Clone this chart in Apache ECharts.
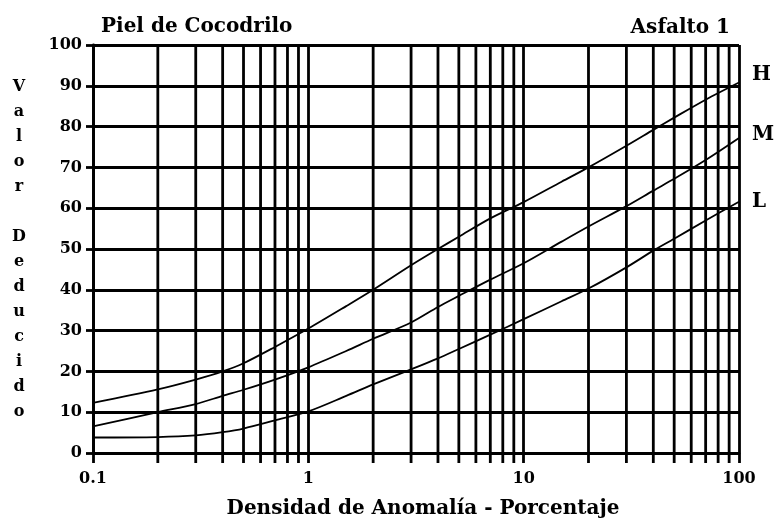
<!DOCTYPE html>
<html lang="es">
<head>
    <meta charset="UTF-8">
    <title>Piel de Cocodrilo - Asfalto 1</title>
    <script src="https://cdn.jsdelivr.net/npm/echarts@6/dist/echarts.min.js"></script>
    <style>
        html, body { margin: 0; padding: 0; background: #fff; }
        #chart { width: 778px; height: 520px; }
    </style>
</head>
<body>
<div id="chart"></div>
<script>
    // densidad (%) en el eje log
    var densidad = [0.1, 0.2, 0.3, 0.4, 0.5, 0.7, 1, 1.5, 2, 3, 4, 5, 7, 10, 15, 20, 30, 40, 50, 70, 100];
    // valor deducido por severidad
    var severidadH = [12.3, 15.6, 18, 20, 22, 26, 30.5, 36, 40, 46, 50, 53, 57.5, 61.5, 66.5, 70, 75.3, 79.2, 82.2, 86.6, 90.8];
    var severidadM = [6.5, 10, 12, 14, 15.5, 18, 21, 25, 28, 32, 35.8, 38.5, 42.5, 46.5, 51.8, 55.5, 60.5, 64.3, 67.2, 71.8, 77.2];
    var severidadL = [3.8, 3.9, 4.3, 5.1, 6, 8, 10.2, 14, 16.8, 20.5, 23.2, 25.5, 29, 32.8, 37.2, 40.3, 45.5, 49.6, 52.5, 57, 61.6];
    // lineas verticales intermedias de la escala log
    var lineasMenores = [0.2, 0.3, 0.4, 0.5, 0.6, 0.7, 0.8, 0.9,
        2, 3, 4, 5, 6, 7, 8, 9,
        20, 30, 40, 50, 60, 70, 80, 90];

    var fuente = 'DejaVu Serif';
    var grosor = 2.8;
    var chart = echarts.init(document.getElementById('chart'));

    function pares(ys) {
        return densidad.map(function (x, i) { return [x, ys[i]]; });
    }

    function curva(nombre, ys, dy) {
        return {
            name: nombre,
            type: 'line',
            data: pares(ys),
            symbol: 'none',
            smooth: 0.3,
            z: 5,
            lineStyle: { color: '#000', width: 1.8 },
            endLabel: {
                show: true,
                formatter: '{a}',
                distance: 13,
                offset: [0, dy],
                color: '#000',
                fontFamily: fuente,
                fontWeight: 'bold',
                fontSize: 20
            }
        };
    }

    chart.setOption({
        animation: false,
        backgroundColor: '#fff',
        title: [{
            text: 'Piel de Cocodrilo',
            left: 96, top: 12,
            textStyle: { fontFamily: fuente, fontWeight: 'bold', fontSize: 20, color: '#000' }
        }, {
            text: 'Asfalto 1',
            right: 43, top: 13,
            textStyle: { fontFamily: fuente, fontWeight: 'bold', fontSize: 20, color: '#000' }
        }],
        grid: { left: 93, right: 39, top: 45, bottom: 67, containLabel: false, outerBoundsMode: 'none' },
        xAxis: {
            type: 'log',
            logBase: 10,
            min: 0.1,
            max: 100,
            name: 'Densidad de Anomalía - Porcentaje',
            nameLocation: 'middle',
            nameGap: 46,
            nameTextStyle: { fontFamily: fuente, fontWeight: 'bold', fontSize: 20, color: '#000', padding: [0, 0, 0, 14] },
            axisLine: { lineStyle: { color: '#000', width: grosor } },
            axisTick: { show: true, length: 10, lineStyle: { color: '#000', width: grosor } },
            axisLabel: {
                margin: 18,
                color: '#000', fontFamily: fuente, fontWeight: 'bold', fontSize: 16,
                formatter: function (v) { return String(v); }
            },
            splitLine: { show: true, lineStyle: { color: '#000', width: grosor } }
        },
        yAxis: {
            type: 'value',
            min: 0,
            max: 100,
            interval: 10,
            name: 'V\na\nl\no\nr\n \nD\ne\nd\nu\nc\ni\nd\no',
            nameLocation: 'middle',
            nameRotate: 0,
            nameGap: 74,
            nameTextStyle: {
                fontFamily: fuente, fontWeight: 'bold', fontSize: 16, color: '#000',
                lineHeight: 25, align: 'center', verticalAlign: 'middle'
            },
            axisLine: { show: true, lineStyle: { color: '#000', width: grosor } },
            axisTick: { show: true, length: 7, lineStyle: { color: '#000', width: grosor } },
            axisLabel: { margin: 11, color: '#000', fontFamily: fuente, fontWeight: 'bold', fontSize: 16 },
            splitLine: { show: true, lineStyle: { color: '#000', width: grosor } }
        },
        series: [{
            // rejilla vertical intermedia, con su marca bajo el eje
            name: 'rejilla',
            type: 'custom',
            silent: true,
            clip: false,
            z: 1,
            data: lineasMenores,
            renderItem: function (params, api) {
                var arriba = api.coord([api.value(0), 100]);
                var abajo = api.coord([api.value(0), 0]);
                return {
                    type: 'line',
                    shape: { x1: arriba[0], y1: arriba[1], x2: abajo[0], y2: abajo[1] + 10 },
                    style: { stroke: '#000', lineWidth: grosor }
                };
            }
        },
            curva('H', severidadH, -8),
            curva('M', severidadM, -3),
            curva('L', severidadL, 0)
        ]
    });
</script>
</body>
</html>
